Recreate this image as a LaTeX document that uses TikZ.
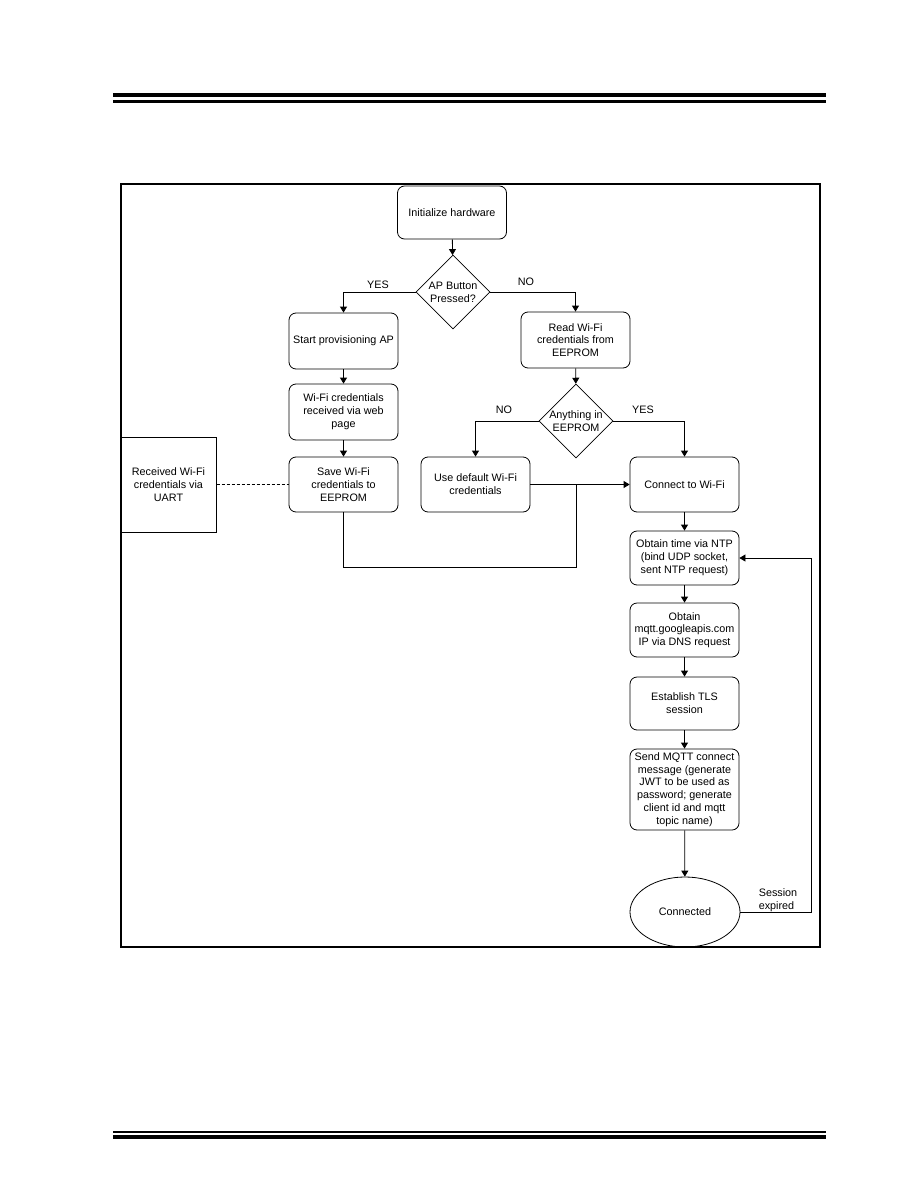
\documentclass[tikz,border=0pt]{standalone}
\usepackage{fontspec}
\setmainfont{Liberation Sans}
\usetikzlibrary{arrows.meta,shapes.geometric}
\begin{document}
\begin{tikzpicture}[x=1pt,y=-1pt,
  font=\fontsize{10.8}{12.8}\selectfont,
  every node/.style={inner sep=0pt},
  proc/.style={draw,line width=0.8pt,rounded corners=7pt,minimum width=109pt,align=center},
  dec/.style={draw,line width=0.8pt,diamond,minimum width=74pt,minimum height=74pt,align=center},
  conn/.style={line width=0.8pt,-{Triangle[length=6pt,width=7pt]}},
  line/.style={line width=0.8pt},
  lbl/.style={align=left}]
\useasboundingbox (0,0) rectangle (918,1188);
% page rules
\draw[line width=4pt] (113,95) -- (826,95);
\draw[line width=2.5pt] (113,101.5) -- (826,101.5);
\draw[line width=2pt] (113,1131.5) -- (826,1131.5);
\draw[line width=4pt] (113,1137) -- (826,1137);
% frame
\draw[line width=1.4pt] (121,184) rectangle (820,947);
% nodes
\node[proc,minimum height=53pt] (init) at (452,212.5) {Initialize hardware};
\node[dec] (ap) at (453,292) {AP Button\\Pressed?};
\node[proc,minimum height=56pt] (start) at (343.5,341) {Start provisioning AP};
\node[proc,minimum height=56pt] (read) at (575.5,340) {Read Wi-Fi\\credentials from\\EEPROM};
\node[proc,minimum height=56pt] (web) at (343.5,412) {Wi-Fi credentials\\received via web\\page};
\node[dec,minimum width=72pt,minimum height=72pt] (any) at (576,421) {Anything in\\EEPROM};
\node[proc,minimum height=55pt] (save) at (343.5,484.5) {Save Wi-Fi\\credentials to\\EEPROM};
\node[proc,minimum height=55pt] (def) at (475.5,484.5) {Use default Wi-Fi\\credentials};
\node[draw,line width=1pt,minimum width=95pt,minimum height=95pt,align=center] (uart) at (168.5,484.5) {Received Wi-Fi\\credentials via\\UART};
\node[proc,minimum height=55pt] (wifi) at (684.5,484.5) {Connect to Wi-Fi};
\node[proc,minimum height=54pt] (ntp) at (684.5,558) {Obtain time via NTP\\(bind UDP socket,\\sent NTP request)};
\node[proc,minimum height=54pt] (dns) at (684.5,630) {Obtain\\mqtt.googleapis.com\\IP via DNS request};
\node[proc,minimum height=53pt] (tls) at (684.5,703.5) {Establish TLS\\session};
\node[proc,minimum height=81pt] (mqtt) at (684.5,789.5) {Send MQTT connect\\message (generate\\JWT to be used as\\password; generate\\client id and mqtt\\topic name)};
\node[draw,line width=0.8pt,ellipse,minimum width=110pt,minimum height=70pt] (conn) at (685,912) {Connected};
% connectors
\draw[conn] (init) -- (ap);
\draw[conn] (ap.west) -| (start.north);
\draw[conn] (ap.east) -| (read.north);
\node[lbl] (yes1) at (378,284.5) {YES};
\node[lbl] (no1) at (526,282) {NO};
\draw[conn] (start) -- (web);
\draw[conn] (web) -- (save);
\draw[conn] (read) -- (any);
\draw[conn] (any.west) -| (def.north);
\draw[conn] (any.east) -| (wifi.north);
\node[lbl] (no2) at (504,410) {NO};
\node[lbl] (yes2) at (643,410) {YES};
\draw[line,dashed,dash pattern=on 3pt off 2pt] (uart.east) -- (save.west);
\draw[conn] (def.east) -- (wifi.west);
\coordinate (j1) at (576,567);
\draw[line] (save.south) |- (j1) -- (576,484.5);
\draw[conn] (wifi) -- (ntp);
\draw[conn] (ntp) -- (dns);
\draw[conn] (dns) -- (tls);
\draw[conn] (tls) -- (mqtt);
\draw[conn] (mqtt) -- (conn);
\coordinate (r1) at (811,912);
\draw[conn] (conn.east) -- (r1) |- (ntp.east);
\node[lbl] (sess) at (778,900) {Session\\expired};
\end{tikzpicture}
\end{document}
